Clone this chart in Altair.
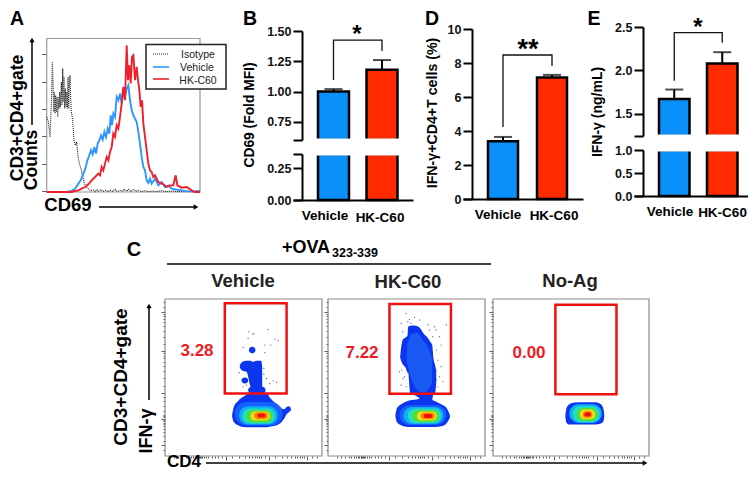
import altair as alt
import pandas as pd

W, H = 740, 463
FONT = "Liberation Sans"
cats = ["Vehicle", "HK-C60"]
BLUE, RED = "#0a90f8", "#ff2a00"
TOWER = "#0b35ee"

# Panel A histogram (channel, count)
iso_x = [0,5,10,12,15,17,19,21,23,25,27,29,31,33,35,37,39,41,44,46,48,50,52,54,56,58,60,62,64,66,68,70,72,74,78,82,86,90,94,98,103,107,112,118,125,132,140,145,150,156,162,170,176,184,190,198,205,212,220,228,232,240,246,252,260,268,275,285,295,305,318,330,345,360,378,395,415,440,460]
iso_y = [225,210,165,215,300,390,330,240,300,235,290,240,285,225,285,250,300,255,330,260,370,270,345,250,310,255,300,250,345,250,320,350,280,240,215,155,140,150,105,85,70,50,30,15,10,3,6,1,8,2,7,2,5,1,6,2,8,1,5,2,9,2,8,1,7,2,5,1,4,1,3,1,4,1,3,1,3,1,2]
veh_x = [0,60,75,85,95,102,110,116,122,128,133,138,143,148,153,158,163,168,173,178,183,188,192,196,200,205,210,215,220,225,230,235,240,245,250,255,260,265,270,275,280,285,290,295,300,305,310,315,325,335,345,355,365,375,390,405,420,440,460]
veh_y = [0,0,3,10,25,35,55,70,95,110,125,113,135,115,145,155,170,157,180,165,190,175,230,200,235,225,285,275,295,265,313,285,310,320,275,245,230,220,210,180,145,105,75,65,35,27,40,25,40,20,30,15,20,10,7,5,2,2,3]
hk_x = [0,75,85,95,105,115,125,135,145,155,160,165,170,175,180,185,190,195,200,205,210,215,220,225,230,235,240,244,248,252,256,260,265,270,274,278,282,286,290,295,300,305,310,315,320,325,335,350,360,370,380,387,392,405,420,435,445,460]
hk_y = [0,0,3,5,10,15,23,35,45,55,50,75,65,85,105,95,120,135,175,165,200,190,225,265,315,275,440,335,380,325,405,410,335,375,335,305,255,275,205,165,125,85,65,60,45,50,30,23,15,20,20,50,20,13,15,5,0,0]
a_y_ticks = [2,85,167,248,330,413]

# Bar panels: value, error
b_vals, b_errs = [1.00, 1.18], [0.02, 0.08]
d_vals, d_errs = [3.4, 7.15], [0.25, 0.15]
e_vals, e_errs = [1.67, 2.08], [0.11, 0.13]

# Panel C density
fc_x_major = [184,312,424]
fc_x_minor = [26,40,52,62,70,78,85,90,94,98,100,103,106,109,112,116,122,130,140,150,160,170,200,222,238,250,260,268,275,281,287,300,330,350,365,378,388,396,404,410,415,440,455]
fc_y_major = [430,315,189,112,32]
fc_y_minor = [18,45,60,72,82,90,96,100,104,108,116,120,124,135,150,165,178,210,235,255,270,282,292,300,308,335,355,375,388,400,410,418,424,445,460]
level_colors = ["#1560ff","#10b0f0","#20e0c0","#55dd33","#e8e020","#ff8800","#ee1111"]

veh_outer = [(201,124,117),(206,147,102),(219,165,92),(234,177,87),(254,187,86),(284,190,86),(304,187,86),(316,172,88),(334,155,92),(349,142,102),(357,140,112),(364,147,125),(372,149,132),(377,142,137)]
veh_tower = [(224,272,264),(232,282,255),(244,285,252),(256,285,207),(262,282,197),(269,284,187),(276,285,187),(284,285,187),(288,285,187),(291,267,187)]
veh_lobes = [(229,249,217,235),(249,301,187,207),(251,271,307,327)]
veh_levels = [(209,352,91,162),(222,337,94,149),(232,329,97,142),(244,322,100,137),(256,314,106,133),(266,309,110,131),(276,301,115,127)]
veh_dots_x = [266,262,251,249,309,329,339,299,316,234,299,296,304,314,334,324,222,234,244,296]
veh_dots_y = [367,364,372,352,379,350,345,332,332,325,309,245,232,217,221,225,249,207,212,262]

hk_outer = [(202,124,117),(206,142,102),(219,155,92),(239,165,87),(264,169,87),(284,172,87),(319,165,87),(339,155,89),(356,142,99),(365,122,115)]
hk_tower = [(216,297,295),(220,332,282),(224,349,274),(232,355,265),(238,360,250),(240,387,249),(246,390,187),(259,391,182),(274,385,172),(286,367,152),(296,357,152),(306,342,152),(312,332,167),(316,290,187),(320,275,187),(324,257,217)]
hk_tower_core = [(236,330,280),(250,365,230),(265,370,200),(285,345,190),(300,325,200),(312,290,220)]
hk_levels = [(214,354,93,152),(226,346,96,147),(239,339,99,142),(252,332,102,137),(266,326,106,133),(277,320,110,130),(286,313,114,126)]
hk_dots_x = [234,244,259,274,299,319,354,334,339,324,329,339,334,344,214,224,219,234,229,221,324,314,304,329,324,219,224,239,249]
hk_dots_y = [427,409,415,407,392,387,392,357,332,317,287,267,237,222,252,232,212,207,237,257,377,357,377,207,227,397,372,402,397]

no_outer = [(218,122,118),(221,142,100),(230,155,94),(245,160,94),(280,161,94),(310,161,94),(325,155,97),(333,140,105),(335,125,115)]
no_levels = [(230,328,99,155),(240,322,102,149),(252,315,105,144),(262,308,110,139),(270,300,114,135),(275,295,118,131)]

fc_pct = ["3.28","7.22","0.00"]

one = alt.Data(values=[{"a":1}])
layers = []

def vx(v): return alt.value(v-8)

def T(s, x, y, size, bold=True, color="black", angle=0, align="center", baseline="alphabetic"):
    layers.append(alt.Chart(one).mark_text(text=s, font=FONT, fontSize=size,
        fontWeight="bold" if bold else "normal", color=color, angle=angle, align=align, baseline=baseline
        ).encode(x=vx(x), y=vx(y)))

def HR(x0, x1, y, color="black", w=1.5, dash=None):
    kw = {"strokeDash":dash} if dash else {}
    layers.append(alt.Chart(one).mark_rule(color=color, strokeWidth=w, **kw).encode(x=vx(x0), x2=vx(x1), y=vx(y)))

def VR(x, y0, y1, color="black", w=1.5):
    layers.append(alt.Chart(one).mark_rule(color=color, strokeWidth=w).encode(x=vx(x), y=vx(y0), y2=vx(y1)))

def HEAD(x, y, shape, size=28):
    layers.append(alt.Chart(one).mark_point(shape=shape, filled=True, color="black", opacity=1, size=size).encode(x=vx(x), y=vx(y)))

def BOX(x0, x1, y0, y1, fill=None, stroke=None, w=1.0):
    kw = {}
    kw["fill"] = fill if fill else "transparent"
    if stroke: kw["stroke"] = stroke
    layers.append(alt.Chart(one).mark_rect(strokeWidth=w, **kw).encode(x=vx(x0), x2=vx(x1), y=vx(y0), y2=vx(y1)))

# ---------- Panel A
ax = alt.Scale(domain=[0,460], range=[46.7-8, 200-8])
ay = alt.Scale(domain=[0,460], range=[192-8, 38.5-8])
BOX(46.7, 200, 38.5, 192, stroke="#999999", w=1.2)
def hist(xs, ys, color, w, dash=None, axis=None):
    df = pd.DataFrame({"x":xs,"y":ys,"i":range(len(xs))})
    kw = {"strokeDash":dash} if dash else {}
    layers.append(alt.Chart(df).mark_line(color=color, strokeWidth=w, **kw).encode(
        x=alt.X("x:Q", scale=ax, axis=None),
        y=alt.Y("y:Q", scale=ay, axis=axis), order="i:Q"))
hist(iso_x, iso_y, "#222222", 1.1, dash=[1,1],
     axis=alt.Axis(orient="left", offset=-(46.7-8), values=a_y_ticks, labels=False, domain=False, tickSize=5, tickColor="#555555", tickWidth=1, title=None, grid=False))
hist(veh_x, veh_y, "#2f96ff", 1.9)
hist(hk_x, hk_y, "#f0202a", 1.9)
BOX(146, 226, 44.5, 89, fill="white", stroke="#222222", w=1.5)
HR(153,169,54,color="#222222",w=1.1,dash=[1,1])
HR(153,169,67,color="#2f96ff",w=1.6)
HR(153,169,79,color="#f0202a",w=1.6)
T("Isotype",198,58,10.5,bold=False,color="#222222")
T("Vehicle",197,71,10.5,bold=False,color="#222222")
T("HK-C60",198,84,10.5,bold=False,color="#222222")
T("A",17,25,19.5)
T("CD3+CD4+gate",17.5,118,17.5,angle=270,baseline="middle")
T("Counts",32,160,17.5,angle=270,baseline="middle")
T("CD69",68,211,18.5)
VR(32,125,41); HEAD(32,40,"triangle-up")
HR(99,195,207); HEAD(196,207,"triangle-right")

# ---------- Bar panels
def band(x0, x1, first_left, width, step):
    pi = 1 - width/step
    po = ((x1-x0)/step - (2-pi))/2
    free = (x1-x0) - step*(2-pi)
    return alt.Scale(type="band", domain=cats, range=[x0-8, x1-8], paddingInner=pi, paddingOuter=po, align=(first_left-x0)/free)

def bar_panel(xs, segs, vals, errs, axis_x, base_y, fmt, bracket, gap=None):
    df = pd.DataFrame({"c":cats,"v":vals,"b":[0,0],"t":[v+e for v,e in zip(vals,errs)]})
    color = alt.Color("c:N", scale=alt.Scale(domain=cats, range=[BLUE,RED]), legend=None)
    for k,(dom,rng,ticks) in enumerate(segs):
        ys = alt.Scale(domain=dom, range=[rng[0]-8,rng[1]-8], clamp=True)
        expr = "indexof(%s,datum.value)>=0 ? format(datum.value,'%s') : ''" % (str(ticks[1]), fmt)
        yaxis = alt.Axis(orient="left", offset=-(axis_x-8), values=ticks[0], labelExpr=expr, title=None, grid=False,
                         domainWidth=2, domainColor="black", tickWidth=2, tickColor="black", tickSize=9,
                         labelFont=FONT, labelFontWeight="bold", labelFontSize=12.5, labelColor="#111111", labelPadding=2, labelOverlap=False, labelFlush=False)
        xaxis = alt.Axis(orient="bottom", offset=base_y-8-H, ticks=False, labels=False, title=None, grid=False, domainWidth=2, domainColor="black") if k==0 else None
        base = alt.Chart(df)
        layers.append(base.mark_rule(color="black", strokeWidth=2).encode(x=alt.X("c:N",scale=xs,axis=None), y=alt.Y("v:Q",scale=ys,axis=None), y2="t:Q"))
        layers.append(base.mark_tick(color="black", thickness=2, size=18).encode(x=alt.X("c:N",scale=xs,axis=None), y=alt.Y("t:Q",scale=ys,axis=None)))
        layers.append(base.mark_bar(stroke="black", strokeWidth=2.5).encode(x=alt.X("c:N",scale=xs,axis=xaxis), y=alt.Y("v:Q",scale=ys,axis=yaxis), y2="b:Q", color=color))
    if gap:
        BOX(gap[0], gap[1], gap[2], gap[3], fill="white")
    top_seg = segs[-1]
    ys = alt.Scale(domain=top_seg[0], range=[top_seg[1][0]-8, top_seg[1][1]-8])
    br = pd.DataFrame({"c":[cats[0],cats[0],cats[1],cats[1]], "y":bracket, "i":[0,1,2,3]})
    layers.append(alt.Chart(br).mark_line(color="#111111", strokeWidth=1.3).encode(
        x=alt.X("c:N",scale=xs,axis=None), y=alt.Y("y:Q",scale=ys,axis=None), order="i:Q"))

b_x = band(293,413,318,31,48.5)
bar_panel(b_x,
    [([0,0.36],(200,154),([0,0.25,0.36],[0,0.25])),
     ([0.6,1.5],(140,31),([0.6,0.75,1.0,1.25,1.5],[0.75,1,1.25,1.5]))],
    b_vals,b_errs,302,200,".2f",[1.095,1.425,1.425,1.335],gap=(312,403,138.5,155.5))
T("Vehicle",325,220,13.5); T("HK-C60",380,222,13.5)
T("CD69 (Fold MFI)",250,115,13.8,angle=270,baseline="middle")
T("B",250,25,19.5); T("*",357,42,24)

d_x = band(463,583,488,30,49)
bar_panel(d_x,[([0,10],(199,29),([0,2,4,6,8,10],[0,2,4,6,8,10]))],d_vals,d_errs,472,199,"d",[4.24,8.47,8.47,7.82])
T("Vehicle",498,219,13.5); T("HK-C60",554,220,13.5)
T("IFN-γ+CD4+T cells (%)",433,113,14.2,angle=270,baseline="middle")
T("D",432,25,19.5); T("**",528,58,27)

e_x = band(634,755,659,30.5,48)
bar_panel(e_x,
    [([0,1.0],(196,150),([0,0.5,1.0],[0,0.5,1.0])),
     ([1.245,2.5],(136,27),([1.245,1.5,2.0,2.5],[1.5,2,2.5]))],
    e_vals,e_errs,643,196,".1f",[1.88,2.435,2.435,2.32],gap=(653,744,134.5,151.5))
T("Vehicle",670,216,13.5); T("HK-C60",722.5,217,13.5)
T("IFN-γ (ng/mL)",598,112,14,angle=270,baseline="middle")
T("E",594,25,19.5); T("*",698,35,24)

# ---------- Panel C
def fc_panel(left, right, outer, tower, core, lobes, lvls, dots, gate, cols):
    xs = alt.Scale(domain=[0,470], range=[left-8,right-8])
    ys = alt.Scale(domain=[0,470], range=[456-8,299-8])
    BOX(left,right,299,456,stroke="#8c8c8c",w=1.2)
    major_x = "indexof(%s,datum.value)>=0" % str(fc_x_major)
    major_y = "indexof(%s,datum.value)>=0" % str(fc_y_major)
    tick_df = pd.DataFrame({"x":[0],"y":[0]})
    layers.append(alt.Chart(tick_df).mark_point(opacity=0).encode(
        x=alt.X("x:Q",scale=xs,axis=alt.Axis(orient="bottom",offset=456-8-H,values=fc_x_major+fc_x_minor,labels=False,domain=False,title=None,grid=False,tickColor="#333333",tickWidth=0.8,
            tickSize={"condition":{"test":major_x,"value":4},"value":2})),
        y=alt.Y("y:Q",scale=ys,axis=alt.Axis(orient="left",offset=-(left-8),values=fc_y_major+fc_y_minor,labels=False,domain=False,title=None,grid=False,tickColor="#333333",tickWidth=0.8,
            tickSize={"condition":{"test":major_y,"value":4},"value":2}))))
    def area(rows, color):
        df = pd.DataFrame(rows, columns=["x","t","b"])
        layers.append(alt.Chart(df).mark_area(color=color, opacity=1, interpolate="monotone").encode(
            x=alt.X("x:Q",scale=xs,axis=None), y=alt.Y("t:Q",scale=ys,axis=None), y2="b:Q"))
    def pill(r, color):
        df = pd.DataFrame([r], columns=["x0","x1","y0","y1"])
        rad = (r[3]-r[2])/3/2
        layers.append(alt.Chart(df).mark_rect(color=color, opacity=1, cornerRadius=rad).encode(
            x=alt.X("x0:Q",scale=xs,axis=None), x2="x1:Q", y=alt.Y("y0:Q",scale=ys,axis=None), y2="y1:Q"))
    if dots:
        df = pd.DataFrame({"x":dots[0],"y":dots[1]})
        layers.append(alt.Chart(df).mark_circle(color="#223388", size=2, opacity=0.7).encode(
            x=alt.X("x:Q",scale=xs,axis=None), y=alt.Y("y:Q",scale=ys,axis=None)))
    if tower: area(tower,TOWER)
    if core: area(core,"#1a58f4")
    for l in lobes: pill(l,TOWER)
    area(outer,TOWER)
    for r,c in zip(lvls, cols): pill(r,c)
    gdf = pd.DataFrame([gate], columns=["x0","x1","y0","y1"])
    layers.append(alt.Chart(gdf).mark_rect(fill="transparent", stroke="#f01010", strokeWidth=2.5).encode(
        x=alt.X("x0:Q",scale=xs,axis=None), x2="x1:Q", y=alt.Y("y0:Q",scale=ys,axis=None), y2="y1:Q"))

fc_panel(165,322,veh_outer,veh_tower,None,veh_lobes,veh_levels,(veh_dots_x,veh_dots_y),(179,364,187,457),level_colors)
fc_panel(328,485,hk_outer,hk_tower,hk_tower_core,[],hk_levels,(hk_dots_x,hk_dots_y),(184,368,186,455),level_colors)
fc_panel(493,649,no_outer,None,None,[],no_levels,None,(188,372,185,453),level_colors[1:])

T(fc_pct[0],197,356,17,color="#ee1c25")
T(fc_pct[1],362,358,17,color="#ee1c25")
T(fc_pct[2],529,358,17,color="#ee1c25")
T("C",134,256,20)
T("+OVA",306,253,18)
T("323-339",355,257,12.5)
HR(167,491,264,w=1.5)
T("Vehicle",243,287,18.5,color="#222222")
T("HK-C60",408,288,18.5,color="#222222")
T("No-Ag",570,287,18.5,color="#222222")
T("CD3+CD4+gate",121,377,19,angle=270,baseline="middle")
T("IFN-γ",147,431,18,angle=270,baseline="middle")
T("CD4",184,467,17)
VR(149,400,307); HEAD(149,306,"triangle-up")
HR(206,644,463); HEAD(645,463,"triangle-right")

chart = alt.layer(*layers).resolve_scale(x="independent", y="independent").resolve_axis(x="independent", y="independent").properties(
    width=W, height=H, autosize=alt.AutoSizeParams(type="none"), padding=0).configure_view(stroke=None)
chart.save("out.html", embed_options={"renderer":"svg","actions":False})
